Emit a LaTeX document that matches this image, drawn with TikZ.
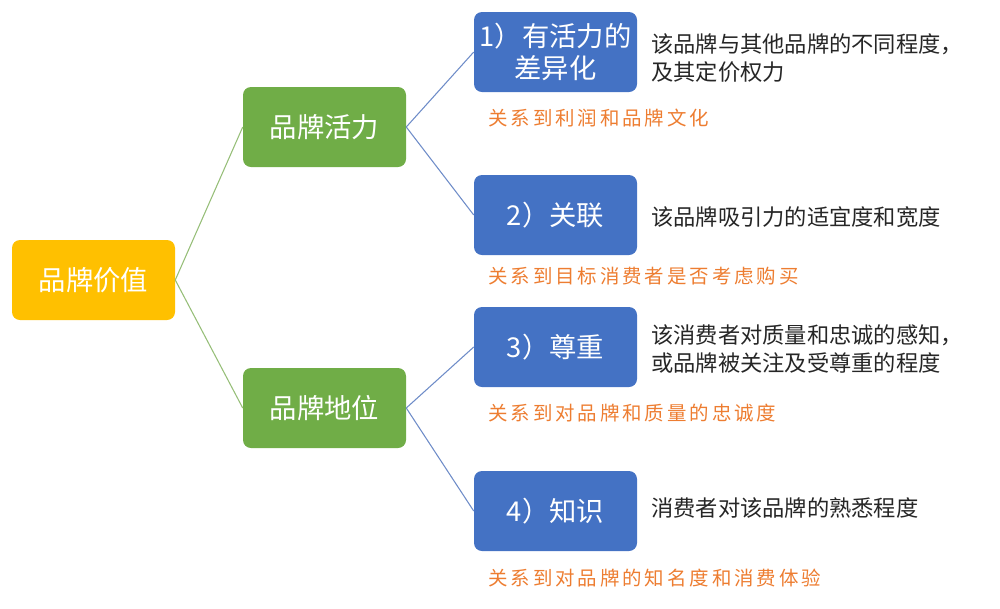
\documentclass[tikz,border=0pt]{standalone}
\usepackage{fontspec}
\setmainfont{Noto Sans CJK SC}
\newfontfamily\notefont[LetterSpace=15]{Noto Sans CJK SC}
\usepackage{tikz}
\usepackage{xcolor}

\definecolor{valueYellow}{RGB}{255,192,0}
\definecolor{pillarGreen}{RGB}{112,173,71}
\definecolor{itemBlue}{RGB}{68,114,196}
\definecolor{noteOrange}{RGB}{237,125,49}
\definecolor{descGray}{RGB}{38,38,38}
\definecolor{greenLine}{RGB}{150,190,120}
\definecolor{blueLine}{RGB}{110,140,200}

\tikzset{
  box/.style={rounded corners=6pt, minimum width=122.25pt, minimum height=60pt, inner sep=0pt,
    text=white, align=center, font=\fontsize{20.5}{24}\selectfont},
  desc/.style={anchor=west, inner sep=0pt, align=left, text=descGray, font=\fontsize{16.7}{21.5}\selectfont},
  note/.style={anchor=west, inner sep=0pt, text=noteOrange, font=\notefont\fontsize{14.6}{18}\selectfont},
  link/.style={line width=0.8pt}
}

\begin{document}
\begin{tikzpicture}[x=0.75pt,y=0.75pt,yscale=-1,xscale=1]
\useasboundingbox (0,0) rectangle (1000,608);

% Boxes
\node [box, fill=valueYellow] (value) at (93.5,280) {品牌价值};
\node [box, fill=pillarGreen] (vital) at (324.5,127) {品牌活力};
\node [box, fill=pillarGreen] (status) at (324.5,408) {品牌地位};
\node [box, fill=itemBlue] (diff) at (555.5,52) {1）有活力的\\差异化};
\node [box, fill=itemBlue] (rel) at (555.5,215) {2）关联};
\node [box, fill=itemBlue] (esteem) at (555.5,347) {3）尊重};
\node [box, fill=itemBlue] (know) at (555.5,511) {4）知识};

% Straight Lines
\draw [link, greenLine] (value.east) -- (vital.west);
\draw [link, greenLine] (value.east) -- (status.west);
\draw [link, blueLine] (vital.east) -- (diff.west);
\draw [link, blueLine] (vital.east) -- (rel.west);
\draw [link, blueLine] (status.east) -- (esteem.west);
\draw [link, blueLine] (status.east) -- (know.west);

% Text Node
\node [desc] (d1) at (651,58) {该品牌与其他品牌的不同程度，\\及其定价权力};
\node [desc] (d2) at (651,217) {该品牌吸引力的适宜度和宽度};
\node [desc] (d3) at (651,349) {该消费者对质量和忠诚的感知，\\或品牌被关注及受尊重的程度};
\node [desc] (d4) at (651,508) {消费者对该品牌的熟悉程度};

% Text Node
\node [note] (n1) at (488,118) {关系到利润和品牌文化};
\node [note] (n2) at (488,276) {关系到目标消费者是否考虑购买};
\node [note] (n3) at (488,413) {关系到对品牌和质量的忠诚度};
\node [note] (n4) at (488,578) {关系到对品牌的知名度和消费体验};

\end{tikzpicture}
\end{document}
